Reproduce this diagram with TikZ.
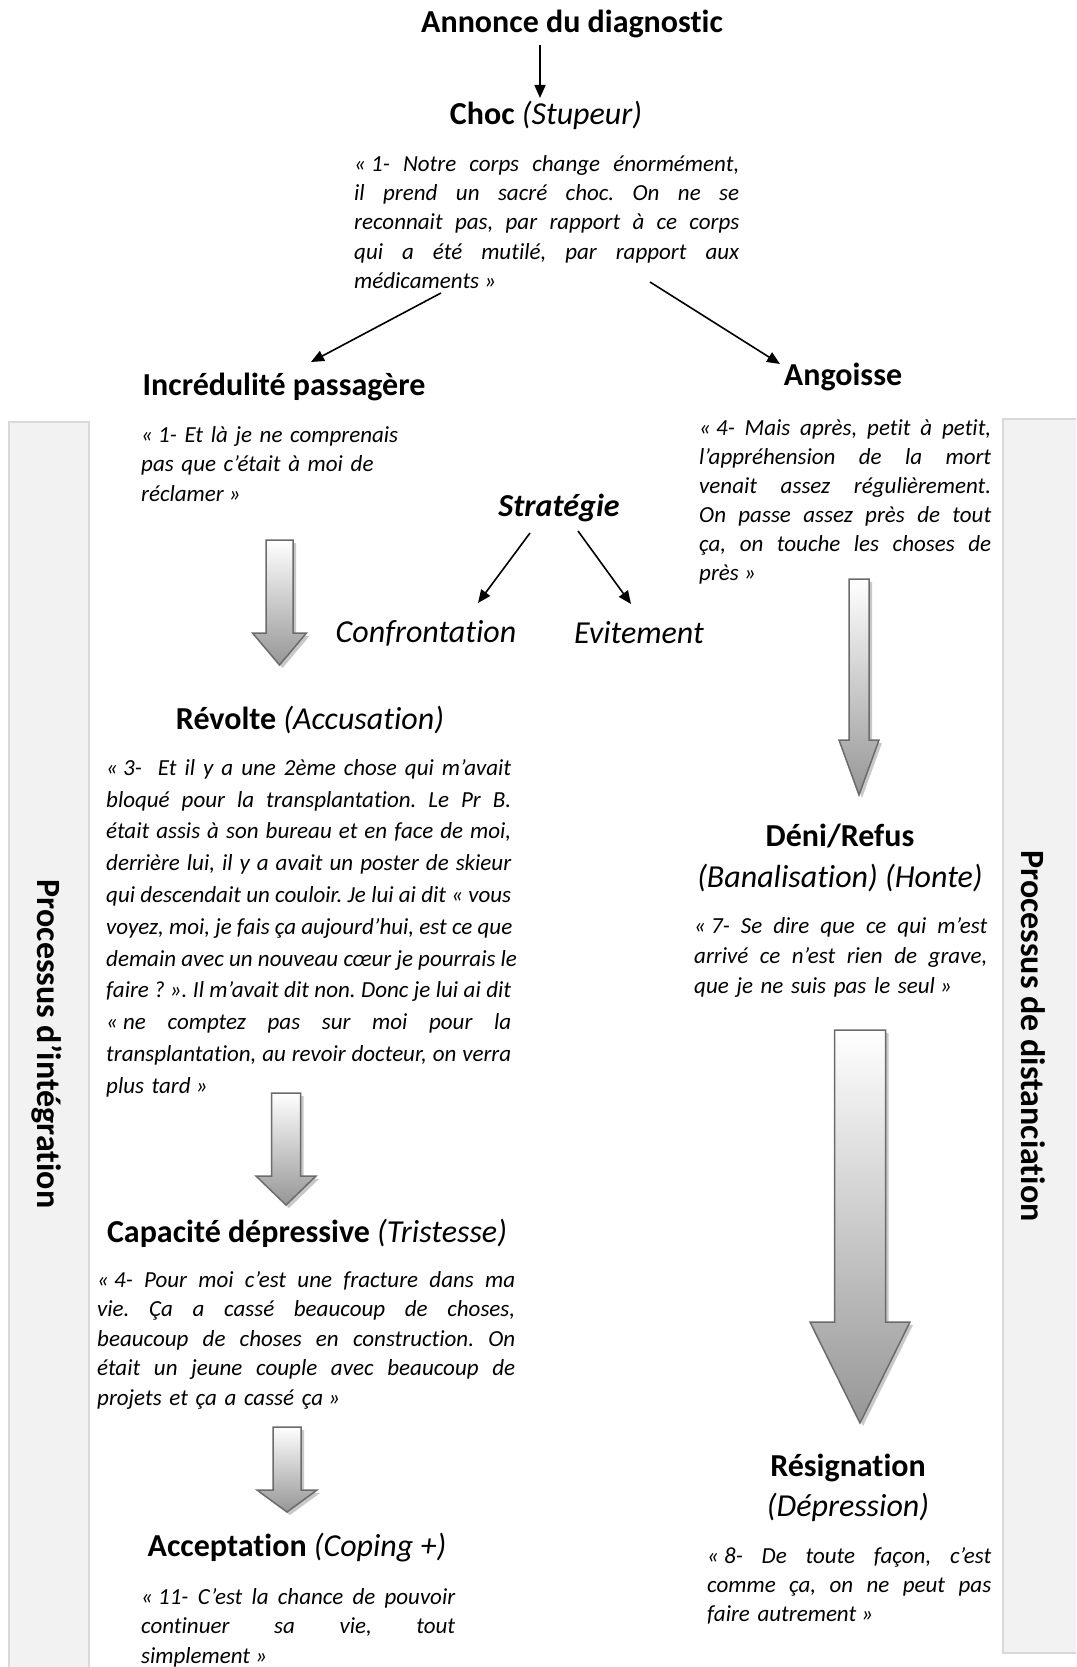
\documentclass[tikz,border=0pt]{standalone}
\usepackage{fontspec}
\setmainfont{Carlito}[Ligatures={NoCommon}]
\usetikzlibrary{arrows.meta}
\definecolor{barfill}{HTML}{F2F2F2}
\definecolor{barline}{HTML}{D9D9D9}
\definecolor{arrline}{HTML}{6B6B6B}
\definecolor{arrdark}{HTML}{969696}
\definecolor{arrshadow}{HTML}{C8C8C8}
\frenchspacing
\newcommand\jl[1]{\leavevmode\hbox to \qw{\spaceskip=0.226em plus 1fil\relax\xspaceskip=\spaceskip #1}}
\newcommand\nb{\kern0.226em}
\newcommand\blockarr[6]{%
  \fill[arrshadow] ({#1-#2+3},{#3+3}) -- ({#1+#2+3},{#3+3}) -- ({#1+#2+3},{#4+3}) -- ({#1+#5+3},{#4+3}) -- ({#1+3},{#6+3}) -- ({#1-#5+3},{#4+3}) -- ({#1-#2+3},{#4+3}) -- cycle;
  \draw[arrline, line width=1.5pt, line join=miter, top color=white, bottom color=arrdark] ({#1-#2},#3) -- ({#1+#2},#3) -- ({#1+#2},#4) -- ({#1+#5},#4) -- (#1,#6) -- ({#1-#5},#4) -- ({#1-#2},#4) -- cycle;
}
\tikzset{
  head/.style={font=\fontsize{32}{38}\selectfont\bfseries, inner sep=0pt},
  ital/.style={font=\fontsize{32}{38}\selectfont\itshape, inner sep=0pt},
  qbox/.style={anchor=north west, inner sep=0pt, align=left, font=\fontsize{23}{#1}\selectfont\itshape},
  conn/.style={-{Triangle[length=13pt,width=11pt]}, line width=1.6pt, black},
  side/.style={font=\fontsize{34}{40}\selectfont\bfseries, rotate=-90, inner sep=0pt},
}
\begin{document}
\begin{tikzpicture}[x=1pt,y=-1pt]
\fill[white] (0,0) rectangle (1076,1667);
\useasboundingbox (0,0) rectangle (1076,1667);
% side bars
\fill[barfill] (9,422) rectangle (89,1667);
\draw[barline, line width=1.5pt] (9,1667) -- (9,422) -- (89,422) -- (89,1667);
\fill[barfill] (1003,419) rectangle (1076,1653);
\draw[barline, line width=1.5pt] (1076,419) -- (1003,419) -- (1003,1653) -- (1076,1653);
\node[side] (sideL) at (47,1044) {Processus d’intégration};
\node[side] (sideR) at (1033,1036) {Processus de distanciation};
% headings
\node[head] (title) at (572,24) {Annonce du diagnostic};
\node[head] (choc) at (546,115) {Choc {\mdseries\itshape (Stupeur)}};
\node[head] (incr) at (284,387) {Incrédulité passagère};
\node[head] (ang) at (843,377) {Angoisse};
\node[head] (strat) at (559,508) {\itshape Stratégie};
\node[ital] (conf) at (426,633) {Confrontation};
\node[ital] (evit) at (639,633) {Evitement};
\node[head] (revolte) at (310,720) {Révolte {\mdseries\itshape (Accusation)}};
\node[head] (capa) at (307,1233) {Capacité dépressive {\mdseries\itshape (Tristesse)}};
\node[head] (accept) at (297,1548) {Acceptation {\mdseries\itshape (Coping +)}};
\node[head] (deni) at (840,836) {Déni/Refus};
\node[ital] (banal) at (840,878) {(Banalisation) (Honte)};
\node[head] (resig) at (848,1468) {Résignation};
\node[ital] (depr) at (848,1507) {(Dépression)};
% quotes
\node[qbox=29.3, text width=385pt] (q1) at (354,151) {\def\qw{385pt}\noindent\rule{0pt}{20pt}\jl{«\nb 1- Notre corps change énormément,}\\\jl{il prend un sacré choc. On ne se}\\\jl{reconnait pas, par rapport à ce corps}\\\jl{qui a été mutilé, par rapport aux}\\médicaments\nb»};
\node[qbox=29.5, text width=300pt] (qinc) at (141,422) {\noindent\rule{0pt}{20pt}«\nb 1- Et là je ne comprenais\\pas que c’était à moi de\\réclamer\nb»};
\node[qbox=29, text width=292pt] (qang) at (699,415) {\def\qw{292pt}\noindent\rule{0pt}{20pt}\jl{«\nb 4- Mais après, petit à petit,}\\\jl{l’appréhension de la mort}\\\jl{venait assez régulièrement.}\\\jl{On passe assez près de tout}\\\jl{ça, on touche les choses de}\\près\nb»};
\node[qbox=31.8, text width=405pt] (q3) at (106,755) {\def\qw{405pt}\noindent\rule{0pt}{20pt}\jl{«\nb 3-\ \ Et il y a une 2ème chose qui m’avait}\\\jl{bloqué pour la transplantation. Le Pr B.}\\\jl{était assis à son bureau et en face de moi,}\\\jl{derrière lui, il y a avait un poster de skieur}\\\jl{qui descendait un couloir. Je lui ai dit «\nb vous}\\\jl{voyez, moi, je fais ça aujourd’hui, est ce que}\\\jl{demain avec un nouveau cœur je pourrais le}\\\jl{faire\nb?\nb». Il m’avait dit non. Donc je lui ai dit}\\\jl{«\nb ne comptez pas sur moi pour la}\\\jl{transplantation, au revoir docteur, on verra}\\plus tard\nb»};
\node[qbox=29.5, text width=418pt] (q4) at (97,1267) {\def\qw{418pt}\noindent\rule{0pt}{20pt}\jl{«\nb 4- Pour moi c’est une fracture dans ma}\\\jl{vie. Ça a cassé beaucoup de choses,}\\\jl{beaucoup de choses en construction. On}\\\jl{était un jeune couple avec beaucoup de}\\projets et ça a cassé ça\nb»};
\node[qbox=29.5, text width=314pt] (q11) at (141,1584) {\def\qw{314pt}\noindent\rule{0pt}{20pt}\jl{«\nb 11- C’est la chance de pouvoir}\\\jl{continuer sa vie, tout}\\simplement\nb»};
\node[qbox=30, text width=293pt] (q7) at (694,913) {\def\qw{293pt}\noindent\rule{0pt}{20pt}\jl{«\nb 7- Se dire que ce qui m’est}\\\jl{arrivé ce n’est rien de grave,}\\que je ne suis pas le seul\nb»};
\node[qbox=29, text width=284pt] (q8) at (707,1543) {\def\qw{284pt}\noindent\rule{0pt}{20pt}\jl{«\nb 8- De toute façon, c’est}\\\jl{comme ça, on ne peut pas}\\faire autrement\nb»};
% connectors
\coordinate (a1s) at (540,45);  \coordinate (a1e) at (540,98);
\coordinate (a2s) at (441,293); \coordinate (a2e) at (311,362);
\coordinate (a3s) at (650,282); \coordinate (a3e) at (780,364);
\coordinate (a4s) at (530,533); \coordinate (a4e) at (478,603);
\coordinate (a5s) at (578,531); \coordinate (a5e) at (631,604);
\draw[conn] (a1s) -- (a1e);
\draw[conn] (a2s) -- (a2e);
\draw[conn] (a3s) -- (a3e);
\draw[conn] (a4s) -- (a4e);
\draw[conn] (a5s) -- (a5e);
% block arrows
\blockarr{279.5}{13.5}{540}{633}{27}{665}
\blockarr{286}{14.5}{1093}{1176}{30}{1205}
\blockarr{287}{14}{1427}{1490}{30}{1512}
\blockarr{859}{10}{579}{740}{20}{795}
\blockarr{860}{25.5}{1030}{1322}{50}{1423}
\end{tikzpicture}
\end{document}
